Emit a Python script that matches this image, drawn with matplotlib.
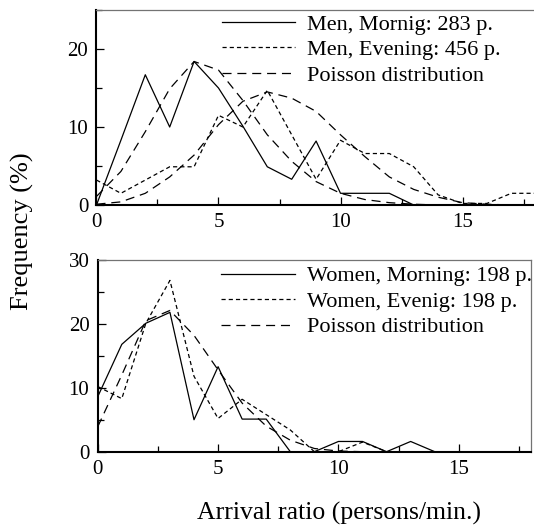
import numpy as np
import matplotlib
matplotlib.use('Agg')
import matplotlib.pyplot as plt
from matplotlib.lines import Line2D
from matplotlib.ticker import MultipleLocator

plt.rcParams['font.family'] = 'Liberation Serif'
plt.rcParams['lines.scale_dashes'] = False

# arrival ratio (persons/min.)
x = np.arange(19)

# men, frequency (%)
men_morning = [0, 8.3, 16.7, 10.0, 18.4, 15.0, 10.1, 4.9, 3.3, 8.2,
               1.5, 1.5, 1.5, 0, 0, 0, 0, 0, 0]
men_evening = [3.2, 1.5, 3.2, 4.9, 4.9, 11.5, 10.0, 14.7, 9.0, 3.3,
               8.3, 6.6, 6.6, 4.9, 1.3, 0.2, 0.2, 1.5, 1.5]
men_poisson_m = [1.1, 4.3, 9.4, 14.9, 18.4, 17.3, 13.4, 9.0, 5.6, 3.0,
                 1.5, 0.7, 0.3, 0.1, 0, 0, 0, 0, 0]
men_poisson_e = [0.1, 0.4, 1.5, 3.6, 6.4, 10.3, 13.3, 14.5, 13.7, 12.0,
                 9.0, 6.2, 3.6, 2.0, 1.0, 0.3, 0.1, 0, 0]
men_labels = ['Men, Mornig: 283 p.', 'Men, Evening: 456 p.', 'Poisson distribution']

# women, frequency (%)
women_morning = [8.6, 16.8, 20.1, 21.8, 5.0, 13.3, 5.1, 5.1, 0, 0,
                 1.6, 1.6, 0, 1.6, 0, 0, 0, 0, 0]
women_evening = [10.2, 8.3, 20.1, 26.8, 11.8, 5.2, 8.2, 5.8, 3.4, 0,
                 0, 1.5, 0, 0, 0, 0, 0, 0, 0]
women_poisson = [3.9, 12.0, 20.5, 22.1, 18.2, 12.8, 7.6, 4.0, 1.8, 0.5,
                 0.1, 0, 0, 0, 0, 0, 0, 0, 0]
women_labels = ['Women, Morning: 198 p.', 'Women, Evenig: 198 p.', 'Poisson distribution']

SHORT = (0, (3.0, 2.2))
LONG = (0, (6.5, 4.2))
LW = 0.9

fig = plt.figure(figsize=(5.34, 5.27), dpi=100)
ax1 = fig.add_axes([0.1807, 0.611, 0.8225, 0.370])
ax2 = fig.add_axes([0.1830, 0.1429, 0.8114, 0.3638])


def style(ax, ymax):
    ax.set_xlim(0, 18)
    ax.set_ylim(0, ymax)
    ax.xaxis.set_major_locator(MultipleLocator(5))
    ax.xaxis.set_minor_locator(MultipleLocator(2.5))
    ax.yaxis.set_major_locator(MultipleLocator(10))
    ax.yaxis.set_minor_locator(MultipleLocator(5))
    ax.tick_params(which='both', direction='in', top=False, right=False,
                   width=0.9, labelsize=15)
    ax.tick_params(which='major', length=6, pad=6)
    ax.tick_params(which='minor', length=4)
    for s in ('left', 'bottom'):
        ax.spines[s].set_linewidth(1.5)
        ax.spines[s].set_color('black')
    for s in ('top', 'right'):
        ax.spines[s].set_linewidth(0.9)
        ax.spines[s].set_color('0.45')


def legend(ax, labels, top):
    handles = [Line2D([], [], color='black', lw=LW, ls='-'),
               Line2D([], [], color='black', lw=LW, ls=SHORT),
               Line2D([], [], color='black', lw=LW, ls=LONG)]
    ax.legend(handles, labels, loc='upper left', bbox_to_anchor=(0.285, top),
              frameon=False, fontsize=16, handlelength=3.3, handletextpad=0.55,
              labelspacing=0.22, borderpad=0, borderaxespad=0)


# top panel: men
ax1.plot(x, men_morning, color='black', lw=LW, ls='-')
ax1.plot(x, men_evening, color='black', lw=LW, ls=SHORT)
ax1.plot(x, men_poisson_m, color='black', lw=LW, ls=LONG)
ax1.plot(x, men_poisson_e, color='black', lw=LW, ls=LONG)
style(ax1, 25)
legend(ax1, men_labels, 0.979)

# bottom panel: women
ax2.plot(x, women_morning, color='black', lw=LW, ls='-')
ax2.plot(x, women_evening, color='black', lw=LW, ls=SHORT)
ax2.plot(x, women_poisson, color='black', lw=LW, ls=LONG)
style(ax2, 30)
legend(ax2, women_labels, 0.969)

fig.text(339 / 534, 1 - 513 / 527, 'Arrival ratio (persons/min.)',
         ha='center', va='center', fontsize=18.5)
fig.text(22 / 534, 1 - 231 / 527, 'Frequency (%)', rotation=90,
         ha='center', va='center', fontsize=19)

fig.savefig('out.png', dpi=100)
